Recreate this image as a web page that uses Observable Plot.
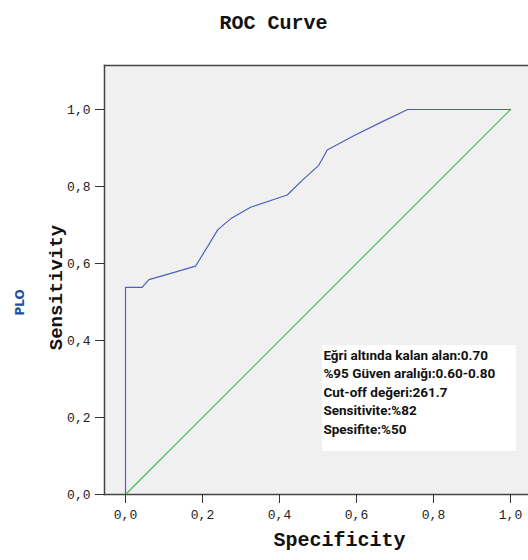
<!DOCTYPE html>
<html>
<head>
<meta charset="utf-8">
<script src="https://cdn.jsdelivr.net/npm/d3@7"></script>
<script src="https://cdn.jsdelivr.net/npm/@observablehq/plot@0.6"></script>
<style>
  html, body { margin: 0; padding: 0; background: #fff; }
  #chart svg { display: block; }
</style>
</head>
<body>
<div id="chart"></div>
<script>
// ROC curve: 1 - specificity (x) vs sensitivity (y)
const specificity = [0, 0, 0.043, 0.061, 0.113, 0.182, 0.240, 0.273, 0.325, 0.420, 0.459, 0.502, 0.524, 0.593, 0.662, 0.733, 1.0];
const sensitivity = [0, 0.538, 0.538, 0.558, 0.573, 0.593, 0.688, 0.716, 0.746, 0.778, 0.816, 0.855, 0.895, 0.932, 0.966, 1.0, 1.0];
const refX = [0, 1];
const refY = [0, 1];
const ticks = [0, 0.2, 0.4, 0.6, 0.8, 1.0];
const noteLines = [
  "Eğri altında kalan alan:0.70",
  "%95 Güven aralığı:0.60-0.80",
  "Cut-off değeri:261.7",
  "Sensitivite:%82",
  "Spesifite:%50"
];
const titleText = "ROC Curve";
const xLabel = "Specificity";
const yLabel = "Sensitivity";
const groupLabel = "PLO";

const curve = specificity.map((x, i) => ({x, y: sensitivity[i]}));
const ref = refX.map((x, i) => ({x, y: refY[i]}));

// annotation box placement (data space)
const box = {x1: 0.512, x2: 1.016, y1: 0.112, y2: 0.387};
const noteX = 0.514, noteTop = 0.361, noteStep = 0.048;
const notes = noteLines.map((t, i) => ({t, x: noteX, y: noteTop - i * noteStep}));

const fmt = d => d.toFixed(1).replace(".", ",");
const mono = "'Liberation Mono', 'Courier New', monospace";

const chart = Plot.plot({
  width: 528,
  height: 560,
  marginTop: 65,
  marginBottom: 66,
  marginLeft: 104,
  marginRight: 0,
  style: {background: "#fff", fontFamily: mono, fontSize: "13px", color: "#222"},
  x: {domain: [-0.05455, 1.0468], axis: null},
  y: {domain: [0, 1.1143], axis: null},
  marks: [
    Plot.frame({fill: "#f0f0f0", stroke: null}),
    Plot.rect([box], {x1: "x1", x2: "x2", y1: "y1", y2: "y2", fill: "#fff"}),
    Plot.frame({anchor: "top", stroke: "#444", strokeWidth: 1.5}),
    Plot.frame({anchor: "left", stroke: "#444", strokeWidth: 1.5}),
    Plot.frame({anchor: "bottom", stroke: "#444", strokeWidth: 1.5}),
    Plot.line(ref, {x: "x", y: "y", stroke: "#3fbf4f", strokeWidth: 1.2}),
    Plot.line(curve, {x: "x", y: "y", stroke: "#4a62bb", strokeWidth: 1.2}),
    Plot.axisX({ticks, tickFormat: fmt, tickSize: 9, tickPadding: 6, label: null, stroke: "#333", fontFamily: mono, fontSize: 13}),
    Plot.axisY({ticks, tickFormat: fmt, tickSize: 9, tickPadding: 5, label: null, stroke: "#333", fontFamily: mono, fontSize: 13}),
    Plot.text(notes, {x: "x", y: "y", text: "t", textAnchor: "start", fontFamily: "Roboto, 'Liberation Sans', sans-serif", fontWeight: "bold", fontSize: 13.5, fill: "#111"}),
    Plot.text([titleText], {frameAnchor: "top", textAnchor: "middle", dx: -43, dy: -51, fontFamily: mono, fontWeight: "bold", fontSize: 20, fill: "#111"}),
    Plot.text([xLabel], {frameAnchor: "bottom", textAnchor: "middle", dx: 23, dy: 51, fontFamily: mono, fontWeight: "bold", fontSize: 20, fill: "#111"}),
    Plot.text([yLabel], {frameAnchor: "left", textAnchor: "middle", rotate: -90, dx: -49, dy: 7.5, fontFamily: mono, fontWeight: "bold", fontSize: 19, fill: "#111"}),
    Plot.text([groupLabel], {frameAnchor: "left", textAnchor: "middle", rotate: -90, dx: -84, dy: 22.5, fontFamily: "'DejaVu Sans', sans-serif", fontWeight: "bold", fontSize: 12, fill: "#1f4f9e"})
  ]
});
document.getElementById("chart").append(chart);
</script>
</body>
</html>
